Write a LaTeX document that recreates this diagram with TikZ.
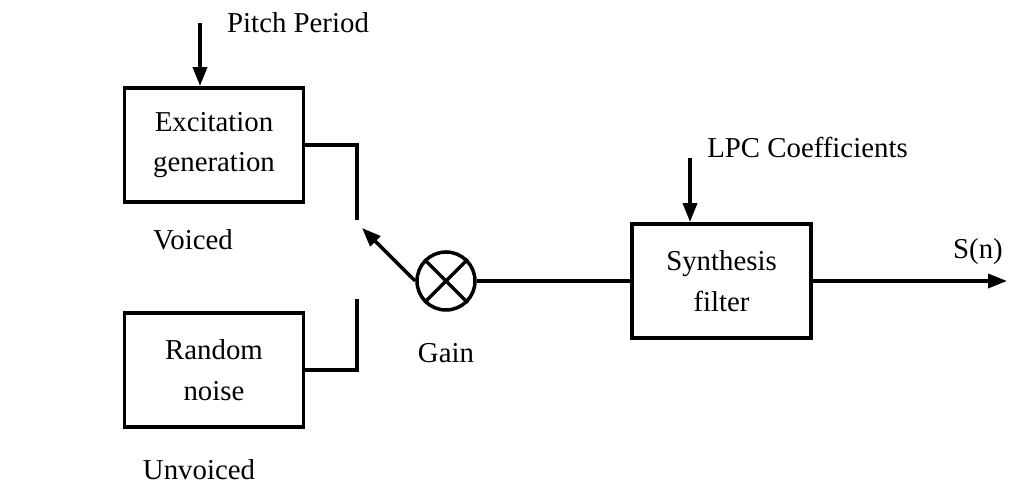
\documentclass[tikz,border=0pt]{standalone}
\usepackage{fontspec}
\setmainfont{Liberation Serif}
\usepackage{tikz}
\usetikzlibrary{arrows.meta}

\begin{document}
\begin{tikzpicture}[every node/.style={align=center, font=\fontsize{16.4}{23}\selectfont},
    block/.style={draw, line width=2.2pt, minimum width=3.58cm, minimum height=2.28cm, inner sep=0pt},
    wire/.style={line width=2pt},
    sig/.style={line width=2pt, -{Triangle[length=0.38cm, width=0.28cm]}}]

  \useasboundingbox (0,0) rectangle (20.18,9.70);

  % ── Source blocks ─────────────────────────────────────────────
  \node[block] (exc) at (4.28,6.80) {Excitation\\generation};
  \node[block] (noise) at (4.28,2.30) {Random\\noise};
  \node (voiced) at (3.86,4.90) {Voiced};
  \node (unvoiced) at (3.98,0.30) {Unvoiced};

  % ── Pitch period input ────────────────────────────────────────
  \coordinate (pitchin) at (4.00,9.24);
  \node[anchor=west] (pitch) at (4.42,9.24) {Pitch Period};
  \draw[sig] (pitchin) -- (pitchin |- exc.north);

  % ── Switch contacts ───────────────────────────────────────────
  \coordinate (vcontact) at (7.14,5.30);
  \coordinate (ucontact) at (7.14,3.72);
  \draw[wire] (exc.east) -| (vcontact);
  \draw[wire] (noise.east) -| (ucontact);

  % ── Gain multiplier ───────────────────────────────────────────
  \node[draw, circle, line width=2pt, minimum size=1.16cm, inner sep=0pt] (mult) at (8.92,4.08) {};
  \draw[wire] (mult.north west) -- (mult.south east);
  \draw[wire] (mult.north east) -- (mult.south west);
  \node (gain) at (8.92,2.64) {Gain};
  \coordinate (switchtip) at (7.24,5.14);
  \draw[sig] (mult.west) -- (switchtip);

  % ── Synthesis filter ──────────────────────────────────────────
  \node[block] (synth) at (14.43,4.08) {Synthesis\\filter};
  \draw[wire] (mult.east) -- (synth.west);
  \coordinate (lpcin) at (13.80,6.54);
  \node (lpc) at (16.15,6.76) {LPC Coefficients};
  \draw[sig] (lpcin) -- (lpcin |- synth.north);

  % ── Output ────────────────────────────────────────────────────
  \coordinate (out) at (20.14,4.08);
  \node (sn) at (19.56,4.66) {S(n)};
  \draw[sig] (synth.east) -- (out);

\end{tikzpicture}
\end{document}
